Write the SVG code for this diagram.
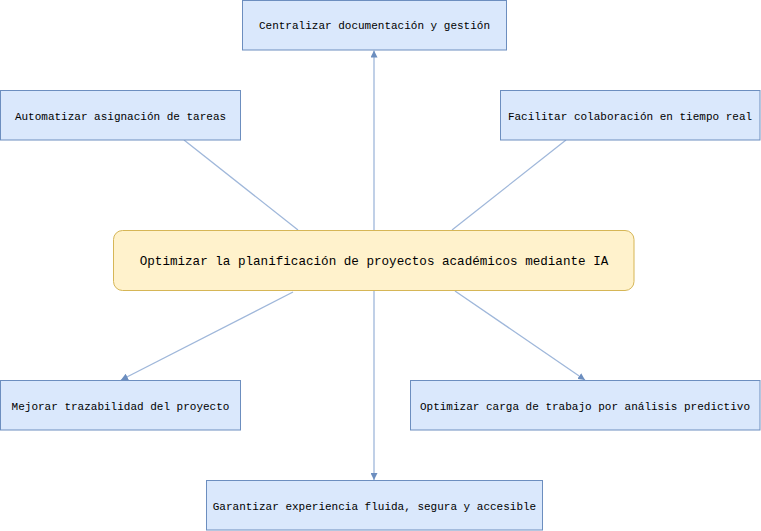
<svg xmlns="http://www.w3.org/2000/svg" width="761" height="531" viewBox="0 0 761 531">
<style>
.box{fill:#dae8fc;stroke:#6c8ebf;stroke-width:1}
.core{fill:#fff2cc;stroke:#d6b656;stroke-width:1}
.t{font-family:"Liberation Mono","DejaVu Sans Mono",monospace;font-size:11px;fill:#000;text-anchor:middle}
.tc{font-size:12.6px}
.c{stroke:#9fb7da;stroke-width:1.3;fill:none}
</style>
<defs>
<marker id="ah" viewBox="0 0 10 10" refX="10" refY="5" markerWidth="7" markerHeight="7" markerUnits="userSpaceOnUse" orient="auto">
<path d="M0,0 L10,5 L0,10 Z" fill="#6c8ebf"/>
</marker>
</defs>
<rect width="761" height="531" fill="#fff"/>
<g id="connectors">
<line class="c" x1="374" y1="230" x2="374" y2="50.5" marker-end="url(#ah)"/>
<line class="c" x1="298" y1="230" x2="184" y2="140"/>
<line class="c" x1="452" y1="230" x2="566" y2="140"/>
<line class="c" x1="293" y1="292" x2="121" y2="380" marker-end="url(#ah)"/>
<line class="c" x1="455" y1="291" x2="585" y2="380" marker-end="url(#ah)"/>
<line class="c" x1="374" y1="291" x2="374" y2="480" marker-end="url(#ah)"/>
</g>
<g id="n-top">
<rect class="box" x="242.5" y="0.5" width="264" height="49.5"/>
<text class="t" x="374.5" y="29">Centralizar documentación y gestión</text>
</g>
<g id="n-auto">
<rect class="box" x="0.5" y="90.5" width="240" height="49.5"/>
<text class="t" x="120.5" y="119.5">Automatizar asignación de tareas</text>
</g>
<g id="n-colab">
<rect class="box" x="500.5" y="90.5" width="259.5" height="49.5"/>
<text class="t" x="630" y="119.5">Facilitar colaboración en tiempo real</text>
</g>
<g id="n-center">
<rect class="core" x="113.5" y="230.5" width="520.5" height="60" rx="9" ry="9"/>
<text class="t tc" x="374" y="265">Optimizar la planificación de proyectos académicos mediante IA</text>
</g>
<g id="n-traz">
<rect class="box" x="0.5" y="380.5" width="240" height="49.5"/>
<text class="t" x="120.5" y="409.5">Mejorar trazabilidad del proyecto</text>
</g>
<g id="n-carga">
<rect class="box" x="410.5" y="380.5" width="349.5" height="49.5"/>
<text class="t" x="585" y="409.5">Optimizar carga de trabajo por análisis predictivo</text>
</g>
<g id="n-ux">
<rect class="box" x="206.5" y="480.5" width="336" height="49.5"/>
<text class="t" x="374.5" y="509.5">Garantizar experiencia fluida, segura y accesible</text>
</g>
</svg>
